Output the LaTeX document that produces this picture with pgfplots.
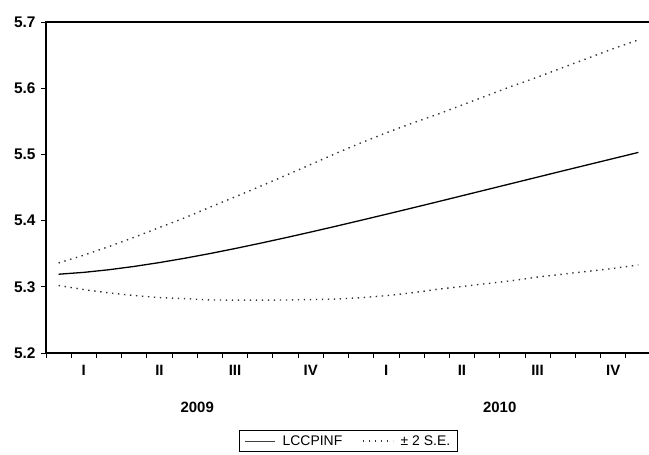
\documentclass[border=0pt]{standalone}
\usepackage{pgfplots}
\pgfplotsset{compat=1.18}
\usepackage{pgfplotstable}
\usepackage{fontspec}
\setmainfont{Liberation Sans}
\pgfplotstableread{
t lccpinf upper lower
0.5 5.3190 5.3360 5.3020
1.5 5.3218 5.3478 5.2958
2.5 5.3258 5.3608 5.2908
3.5 5.3308 5.3748 5.2868
4.5 5.3366 5.3896 5.2836
5.5 5.3431 5.4041 5.2821
6.5 5.3502 5.4202 5.2802
7.5 5.3578 5.4358 5.2798
8.5 5.3658 5.4518 5.2798
9.5 5.3741 5.4681 5.2801
10.5 5.3827 5.4847 5.2807
11.5 5.3915 5.5015 5.2815
12.5 5.4005 5.5175 5.2835
13.5 5.4096 5.5326 5.2866
14.5 5.4188 5.5468 5.2908
15.5 5.4281 5.5601 5.2961
16.5 5.4375 5.5745 5.3005
17.5 5.4469 5.5889 5.3049
18.5 5.4563 5.6033 5.3093
19.5 5.4657 5.6167 5.3147
20.5 5.4751 5.6311 5.3191
21.5 5.4844 5.6454 5.3234
22.5 5.4937 5.6597 5.3277
23.5 5.5030 5.6730 5.3330
}\fc
\begin{document}
\begin{tikzpicture}
\useasboundingbox (-46bp,-102bp) rectangle (603bp,353bp);
\begin{axis}[
  at={(0,0)}, anchor=south west,
  scale only axis,
  width=605bp, height=331bp,
  xmin=0, xmax=24,
  ymin=5.2, ymax=5.7,
  clip=false,
  axis line style={black, line width=1.2bp},
  xtick={1.5,4.5,7.5,10.5,13.5,16.5,19.5,22.5},
  xticklabels={I,II,III,IV,I,II,III,IV},
  minor xtick={0,1,...,24},
  major x tick style={draw=none},
  minor x tick style={black, line width=0.8bp},
  minor tick length=5bp,
  tick align=outside,
  xtick pos=bottom,
  ytick={5.2,5.3,5.4,5.5,5.6,5.7},
  ytick pos=left,
  major tick length=5bp,
  major y tick style={black, line width=0.9bp},
  yticklabel style={font=\fontsize{15.5}{15.5}\selectfont\bfseries, /pgf/number format/fixed, /pgf/number format/precision=1, xshift=-2bp},
  xticklabel style={font=\fontsize{15}{15}\selectfont\bfseries, yshift=-4bp},
  /pgf/number format/assume math mode=true,
  legend style={at={(0.5,-0.2326)}, anchor=north, legend columns=2, draw=black, line width=0.9bp,
    font=\fontsize{14}{15}\selectfont, inner xsep=5bp, inner ysep=3bp,
    /tikz/every even column/.append style={column sep=18bp}},
  legend cell align=left,
  legend image code/.code={\draw[#1] (0bp,0bp) -- (30bp,0bp); \path (35bp,0bp);},
]
\addplot[black, line width=1.3bp, legend image post style={black!75, line width=0.9bp}] table[x=t, y=lccpinf] {\fc};
\addlegendentry{LCCPINF}
\addplot[black!80, line width=1.4bp, dash pattern=on 1.4bp off 4.6bp] table[x=t, y=upper] {\fc};
\addlegendentry{\textpm\ 2 S.E.}
\addplot[black!80, line width=1.4bp, dash pattern=on 1.4bp off 4.6bp, forget plot] table[x=t, y=lower] {\fc};
\node[font=\fontsize{15}{15}\selectfont\bfseries] at (axis cs:6,5.2) [yshift=-54bp] {2009};
\node[font=\fontsize{15}{15}\selectfont\bfseries] at (axis cs:18,5.2) [yshift=-54bp] {2010};
\end{axis}
\end{tikzpicture}
\end{document}
